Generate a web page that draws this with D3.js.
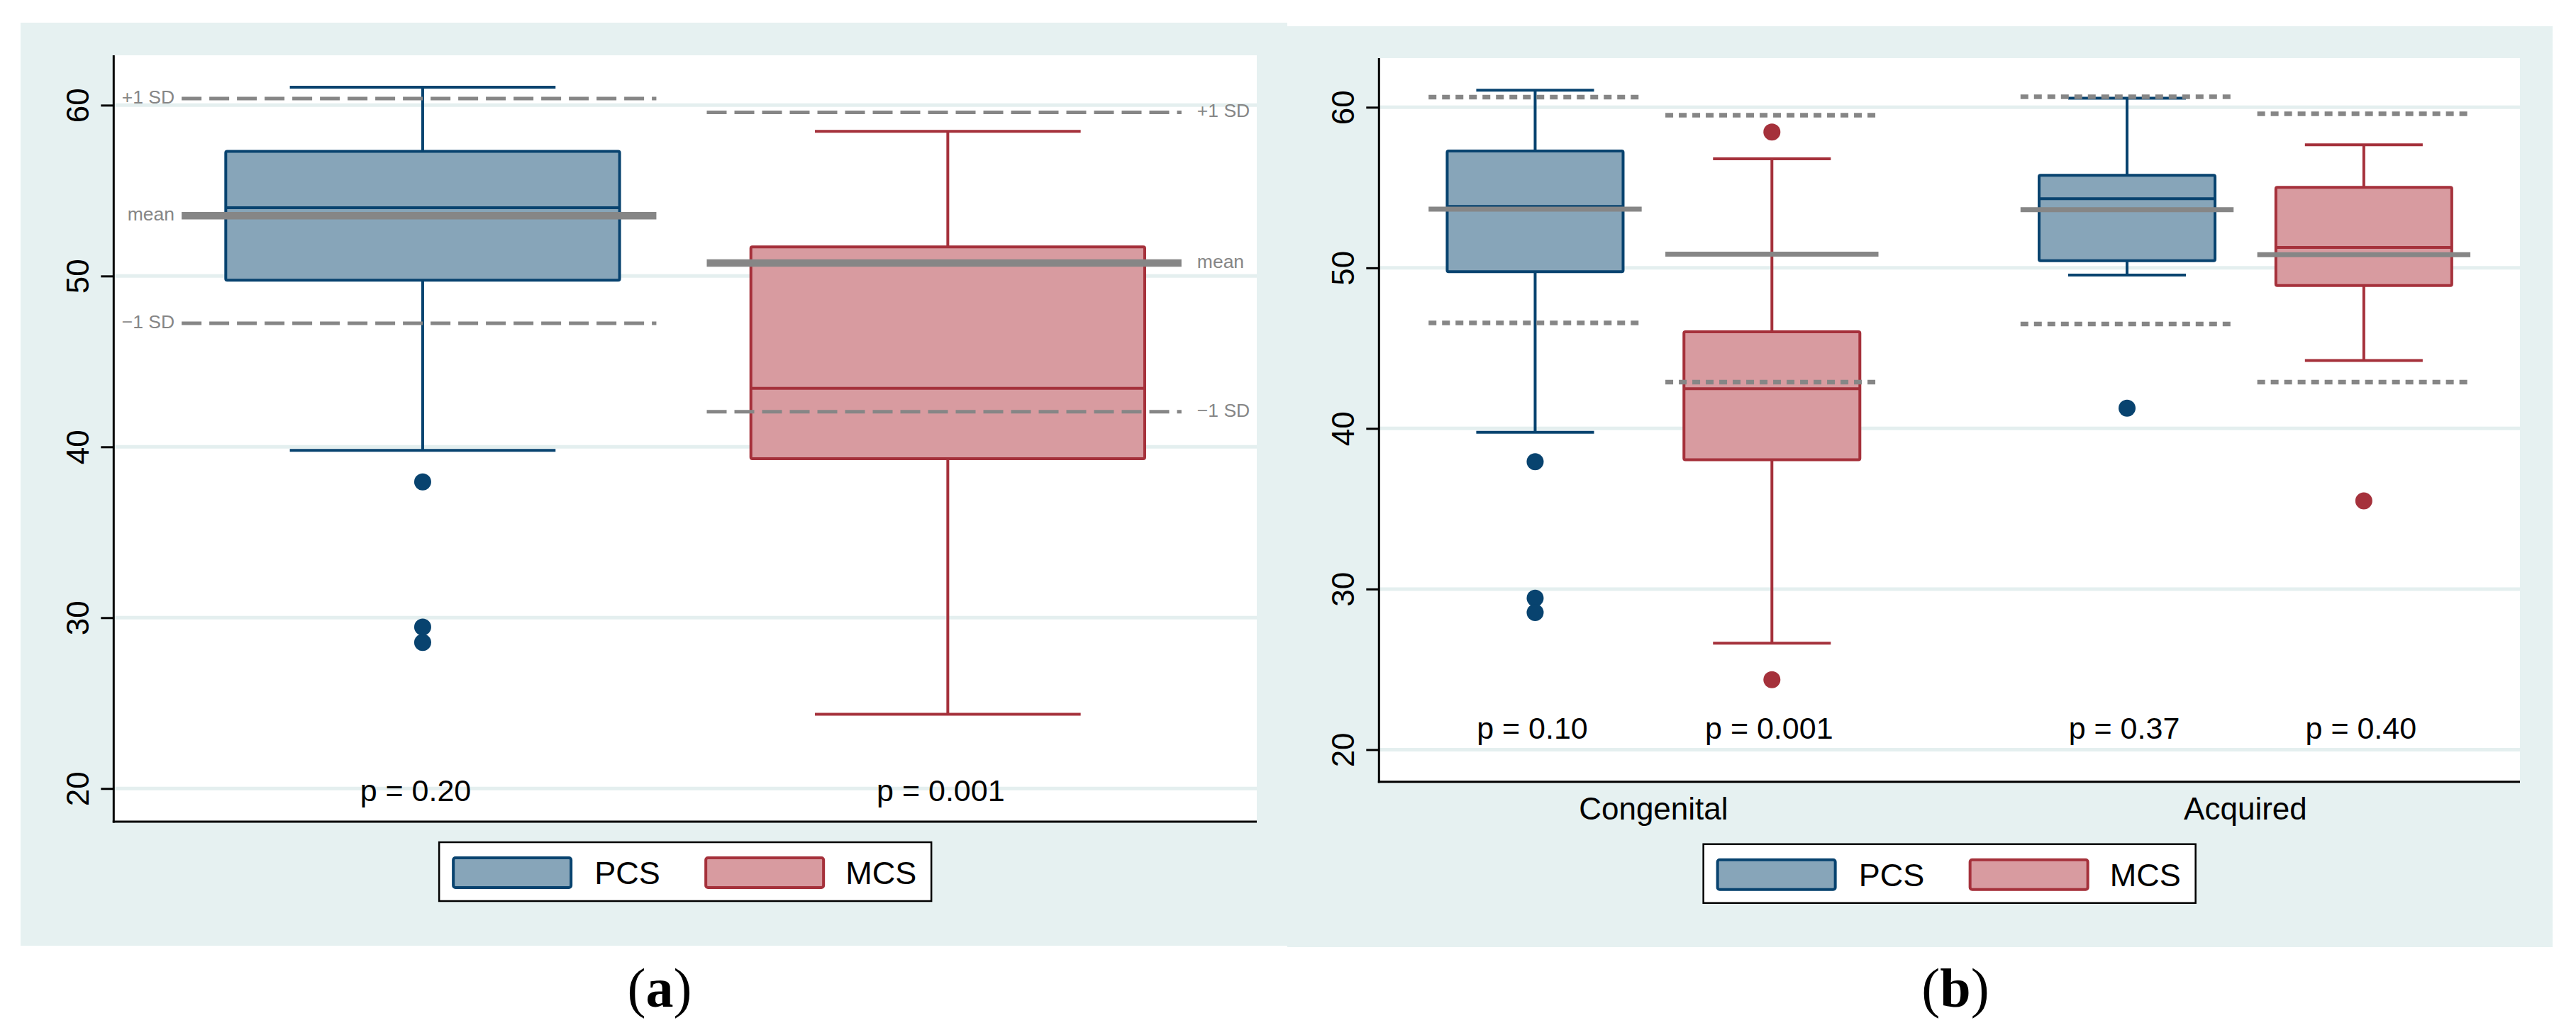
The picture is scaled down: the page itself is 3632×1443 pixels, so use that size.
<!DOCTYPE html>
<html lang="en">
<head>
<meta charset="UTF-8">
<script src="https://d3js.org/d3.v7.min.js"></script>
<title>PCS / MCS box plots</title>
<style>
    body{ margin:0; background:#ffffff; }
    text{ font-family:"Liberation Sans", Arial, sans-serif; }
</style>
</head>
<body>
<svg id="chart"></svg>
<script>
// ---- data ----
const seriesNames = ["PCS", "MCS"];
const yTicks = [20, 30, 40, 50, 60];

// panel (a): one box per series
const aWhiskerLow  = [39.8, 24.35];
const aQ1          = [49.75, 39.31];
const aMedian      = [54.0, 43.43];
const aQ3          = [57.3, 51.7];
const aWhiskerHigh = [61.05, 58.47];
const aOutliers    = [[37.95, 29.45, 28.55], []];
const aMean        = [53.53, 50.76];
const aPlusSD      = [60.39, 59.58];
const aMinusSD     = [47.23, 42.06];
const aPValues     = ["p = 0.20", "p = 0.001"];
const sdLabels     = ["+1 SD", "mean", "\u22121 SD"];

// panel (b): [category][series]
const categories   = ["Congenital", "Acquired"];
const bWhiskerLow  = [[39.76, 26.63], [49.55, 44.23]];
const bQ1          = [[49.76, 38.05], [50.45, 48.9]];
const bMedian      = [[53.82, 42.48], [54.31, 51.27]];
const bQ3          = [[57.28, 46.02], [55.77, 55.01]];
const bWhiskerHigh = [[61.06, 56.79], [60.57, 57.66]];
const bOutliers    = [[[37.93, 29.43, 28.54], [58.46, 24.35]], [[41.26], [35.49]]];
const bMean        = [[53.66, 50.85], [53.62, 50.82]];
const bPlusSD      = [[60.63, 59.51], [60.65, 59.6]];
const bMinusSD     = [[46.57, 42.89], [46.5, 42.89]];
const bPValues     = [["p = 0.10", "p = 0.001"], ["p = 0.37", "p = 0.40"]];

// ---- styles ----
const W = 3632, H = 1443;
const bgColor = "#e6f1f1";
const gridColor = "#e4efef";
const refGray = "#868686";
const stroke = {PCS: "#08436f", MCS: "#a5313b"};
const fill = {PCS: "#87a5b9", MCS: "#d89ba0"};

const svg = d3.select("#chart").attr("width", W).attr("height", H);

// build flat records
const recsA = seriesNames.map((s, i) => ({
    series: s, lo: aWhiskerLow[i], q1: aQ1[i], med: aMedian[i], q3: aQ3[i], hi: aWhiskerHigh[i],
    out: aOutliers[i], mean: aMean[i], plus: aPlusSD[i], minus: aMinusSD[i], p: aPValues[i]
}));
const recsB = [];
categories.forEach((c, ci) => seriesNames.forEach((s, si) => recsB.push({
    cat: c, series: s, lo: bWhiskerLow[ci][si], q1: bQ1[ci][si], med: bMedian[ci][si], q3: bQ3[ci][si],
    hi: bWhiskerHigh[ci][si], out: bOutliers[ci][si], mean: bMean[ci][si], plus: bPlusSD[ci][si],
    minus: bMinusSD[ci][si], p: bPValues[ci][si]
})));

function drawPanel(cfg){
    const g = svg.append("g");
    g.append("rect").attr("x", cfg.bg[0]).attr("y", cfg.bg[1])
        .attr("width", cfg.bg[2]).attr("height", cfg.bg[3]).attr("fill", bgColor);
    g.append("rect").attr("x", cfg.left).attr("y", cfg.top)
        .attr("width", cfg.right - cfg.left).attr("height", cfg.bottom - cfg.top).attr("fill", "#fff");

    const y = d3.scaleLinear().domain(cfg.yDomain).range([cfg.bottom, cfg.top]);

    // gridlines
    g.selectAll(".grid").data(yTicks).enter().append("line")
        .attr("x1", cfg.left).attr("x2", cfg.right)
        .attr("y1", d => y(d)).attr("y2", d => y(d))
        .attr("stroke", gridColor).attr("stroke-width", 5);

    const recs = cfg.recs;
    const cx = cfg.cx, bh = cfg.boxHalf, ch = cfg.capHalf;

    const box = g.selectAll(".box").data(recs).enter().append("g");
    // whiskers
    box.append("line").attr("x1", cx).attr("x2", cx).attr("y1", d => y(d.q3)).attr("y2", d => y(d.hi))
        .attr("stroke", d => stroke[d.series]).attr("stroke-width", 4);
    box.append("line").attr("x1", cx).attr("x2", cx).attr("y1", d => y(d.q1)).attr("y2", d => y(d.lo))
        .attr("stroke", d => stroke[d.series]).attr("stroke-width", 4);
    box.append("line").attr("x1", d => cx(d) - ch).attr("x2", d => cx(d) + ch)
        .attr("y1", d => y(d.hi)).attr("y2", d => y(d.hi))
        .attr("stroke", d => stroke[d.series]).attr("stroke-width", 4);
    box.append("line").attr("x1", d => cx(d) - ch).attr("x2", d => cx(d) + ch)
        .attr("y1", d => y(d.lo)).attr("y2", d => y(d.lo))
        .attr("stroke", d => stroke[d.series]).attr("stroke-width", 4);
    // box + median
    box.append("rect").attr("x", d => cx(d) - bh).attr("width", 2 * bh)
        .attr("y", d => y(d.q3)).attr("height", d => y(d.q1) - y(d.q3))
        .attr("rx", 2).attr("fill", d => fill[d.series])
        .attr("stroke", d => stroke[d.series]).attr("stroke-width", 4);
    box.append("line").attr("x1", d => cx(d) - bh).attr("x2", d => cx(d) + bh)
        .attr("y1", d => y(d.med)).attr("y2", d => y(d.med))
        .attr("stroke", d => stroke[d.series]).attr("stroke-width", 4);
    // outliers
    box.each(function(d){
        d3.select(this).selectAll("circle").data(d.out).enter().append("circle")
            .attr("cx", cx(d)).attr("cy", v => y(v)).attr("r", 12)
            .attr("fill", stroke[d.series]);
    });

    // mean and SD reference lines
    const l0 = d => cx(d) - cfg.lineLeft, l1 = d => cx(d) + cfg.lineRight;
    ["plus", "minus"].forEach(k => {
        box.append("line").attr("x1", l0).attr("x2", l1)
            .attr("y1", d => y(d[k])).attr("y2", d => y(d[k]))
            .attr("stroke", refGray).attr("stroke-width", cfg.sdWidth)
            .attr("stroke-dasharray", cfg.sdDash);
    });
    box.append("line").attr("x1", l0).attr("x2", l1)
        .attr("y1", d => y(d.mean)).attr("y2", d => y(d.mean))
        .attr("stroke", refGray).attr("stroke-width", cfg.meanWidth);

    if (cfg.sdText){
        box.each(function(d, i){
            const left = i === 0;
            d3.select(this).selectAll(".sdl").data([d.plus, d.mean, d.minus]).enter().append("text")
                .attr("x", left ? l0(d) - 10 : l1(d) + 22)
                .attr("y", v => y(v)).attr("dy", "0.26em")
                .attr("text-anchor", left ? "end" : "start")
                .attr("font-size", 26.5).attr("fill", refGray)
                .text((v, j) => sdLabels[j]);
        });
    }

    // p-values
    box.append("text").attr("x", d => cx(d) + cfg.pDx).attr("y", y(cfg.pY))
        .attr("text-anchor", "middle").attr("font-size", 43).attr("fill", "#000")
        .text(d => d.p);

    // y axis
    const yAxis = d3.axisLeft(y).tickValues(yTicks).tickSize(18).tickPadding(0);
    const ax = g.append("g").attr("transform", `translate(${cfg.left},0)`).call(yAxis);
    ax.select(".domain").remove();
    ax.selectAll(".tick line").attr("stroke", "#000").attr("stroke-width", 3);
    ax.selectAll(".tick text")
        .attr("x", null).attr("dy", null).attr("y", null)
        .attr("transform", "translate(-35,0) rotate(-90)")
        .attr("text-anchor", "middle").attr("font-size", 44)
        .attr("fill", "#000");
    g.append("line").attr("x1", cfg.left).attr("x2", cfg.left).attr("y1", cfg.top).attr("y2", cfg.bottom + 1.5)
        .attr("stroke", "#000").attr("stroke-width", 3);
    g.append("line").attr("x1", cfg.left - 1.5).attr("x2", cfg.right).attr("y1", cfg.bottom).attr("y2", cfg.bottom)
        .attr("stroke", "#000").attr("stroke-width", 3);

    if (cfg.catX){
        g.selectAll(".cat").data(categories).enter().append("text")
            .attr("x", d => cfg.catX(d)).attr("y", cfg.bottom + 53.6)
            .attr("text-anchor", "middle").attr("font-size", 44).text(d => d);
    }

    // legend
    const lw = 694, lh = 83;
    const lx = (cfg.left + cfg.right) / 2 - lw / 2;
    const lg = g.append("g").attr("transform", `translate(${lx},${cfg.legendY})`);
    lg.append("rect").attr("width", lw).attr("height", lh).attr("fill", "#fff")
        .attr("stroke", "#000").attr("stroke-width", 2.5);
    seriesNames.forEach((s, i) => {
        lg.append("rect").attr("x", 20 + i * 356).attr("y", 22).attr("width", 166).attr("height", 42)
            .attr("rx", 3).attr("fill", fill[s]).attr("stroke", stroke[s]).attr("stroke-width", 4);
        lg.append("text").attr("x", 219 + i * 354).attr("y", 59).attr("font-size", 45).text(s);
    });

    // panel label (serif, set as style so it wins over the stylesheet)
    const pl = g.append("text").attr("x", cfg.labelX).attr("y", 1420).attr("text-anchor", "middle")
        .attr("font-size", 78)
        .style("font-family", "'Liberation Serif', 'Times New Roman', serif");
    pl.append("tspan").text("(");
    pl.append("tspan").attr("font-weight", "bold").text(cfg.label);
    pl.append("tspan").text(")");
}

// panel (a)
const xA = d3.scalePoint().domain(seriesNames).range([160.3, 1772]).padding(0.5884);
const stepA = xA.step();
drawPanel({
    bg: [29, 32, 1786, 1302], left: 160.3, right: 1772, top: 78, bottom: 1159,
    yDomain: [18.06, 62.92], recs: recsA, cx: d => xA(d.series),
    boxHalf: 0.375 * stepA, capHalf: 0.253 * stepA,
    lineLeft: 0.459 * stepA, lineRight: 0.445 * stepA,
    sdWidth: 5, sdDash: "28 11", meanWidth: 10.5, sdText: true,
    pY: 19.25, pDx: -10, legendY: 1188, label: "a", labelX: 930
});

// panel (b)
const xB = d3.scalePoint().domain(categories).range([1944.3, 3553]).padding(0.4638);
const stepB = xB.step();
const xB1 = d3.scalePoint().domain(seriesNames).range([-0.2 * stepB, 0.2 * stepB]);
drawPanel({
    bg: [1815, 37, 1784, 1299], left: 1944.3, right: 3553, top: 82, bottom: 1102.7,
    yDomain: [18.0, 63.06], recs: recsB, cx: d => xB(d.cat) + xB1(d.series),
    boxHalf: 0.1486 * stepB, capHalf: 0.0995 * stepB,
    lineLeft: 0.18 * stepB, lineRight: 0.18 * stepB,
    sdWidth: 6.5, sdDash: "11 8", meanWidth: 7, sdText: false,
    pY: 20.68, pDx: -4, legendY: 1190.7, catX: d => xB(d), label: "b", labelX: 2757
});
</script>
</body>
</html>
